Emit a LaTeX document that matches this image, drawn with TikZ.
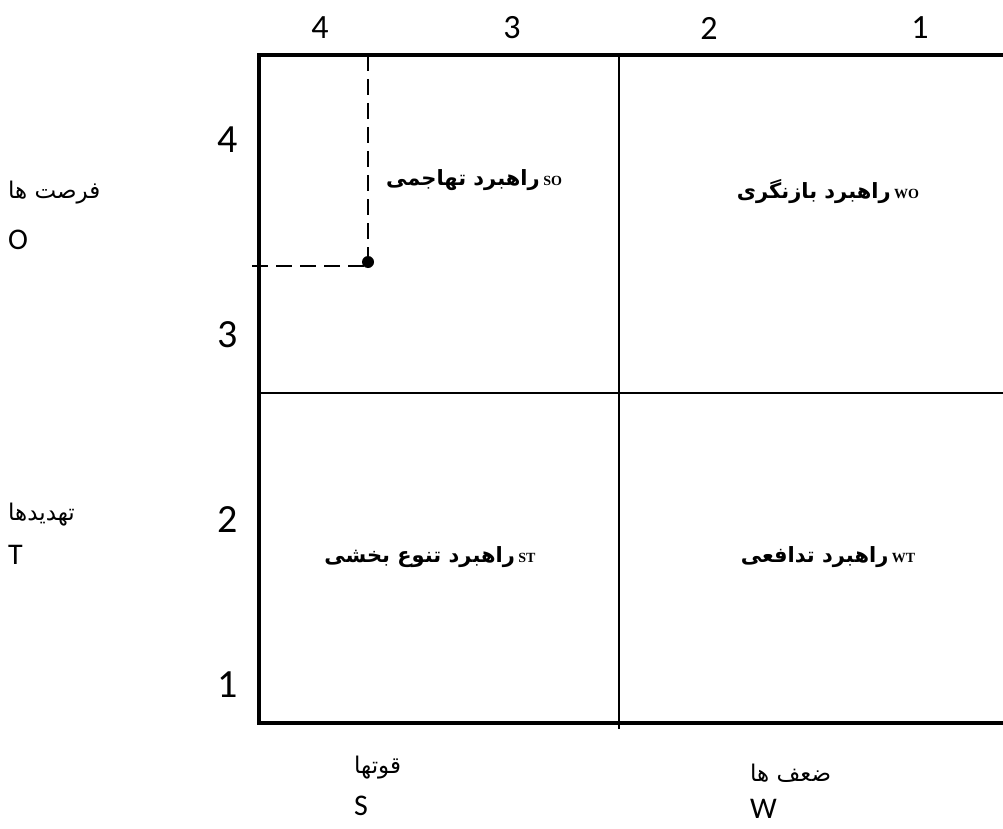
\documentclass[tikz,border=0pt]{standalone}
\usepackage{fontspec}
\setmainfont{Carlito}
\newfontfamily\arabicfont[Script=Arabic]{DejaVu Sans}
\newfontfamily\serifl{Liberation Serif}
\newcommand\tagtxt[1]{{\serifl\fontsize{14}{16}\selectfont #1}}
\TeXXeTstate=1
\begin{document}
\begin{tikzpicture}[x=1pt,y=-1pt,
  frame/.style={line width=3.5pt},
  divider/.style={line width=1.2pt},
  guide/.style={line width=1.2pt,dash pattern=on 16pt off 8pt},
  num/.style={font=\fontsize{34}{38}\selectfont,inner sep=0pt},
  lnum/.style={font=\fontsize{40}{44}\selectfont,inner sep=0pt},
  axar/.style={font=\arabicfont\fontsize{23}{26}\selectfont,inner sep=0pt,anchor=west},
  axlat/.style={font=\fontsize{30}{34}\selectfont,inner sep=0pt,anchor=west},
  cell/.style={inner sep=0pt,font=\fontsize{21}{24}\selectfont\bfseries}]
\useasboundingbox (0,0) rectangle (1003,829);
% frame
\coordinate (tl) at (259,55);
\coordinate (tr) at (1010,55);
\coordinate (bl) at (259,723);
\coordinate (br) at (1010,723);
\draw[frame] (tr) -- (tl) -- (bl) -- (br);
% dividers
\coordinate (vt) at (619,55);
\coordinate (vb) at (619,729);
\coordinate (hl) at (259,393);
\coordinate (hr) at (1010,393);
\draw[divider] (vt) -- (vb);
\draw[divider] (hl) -- (hr);
% dashed guides and point
\coordinate (gt) at (368,55);
\coordinate (p) at (368,262);
\coordinate (gl) at (252,266);
\draw[guide] (gt) -- (p);
\draw[guide] (gl) -- (p |- gl);
\fill (p) circle (6pt);
% top numbers
\node[num] (t4) at (320,28) {4};
\node[num] (t3) at (512,28) {3};
\node[num] (t2) at (709,28) {2};
\node[num] (t1) at (920,28) {1};
% left numbers
\node[lnum] (l4) at (228,140) {4};
\node[lnum] (l3) at (228,335) {3};
\node[lnum] (l2) at (228,520) {2};
\node[lnum] (l1) at (228,685) {1};
% cell labels
\node[cell] (so) at (474,180) {{\arabicfont\beginR راهبرد تهاجمی\endR}\,\tagtxt{SO}};
\node[cell] (wo) at (828,192) {{\arabicfont\beginR راهبرد بازنگری\endR}\,\tagtxt{WO}};
\node[cell] (st) at (430,557) {{\arabicfont\beginR راهبرد تنوع بخشی\endR}\,\tagtxt{ST}};
\node[cell] (wt) at (828,557) {{\arabicfont\beginR راهبرد تدافعی\endR}\,\tagtxt{WT}};
% axis labels
\node[axar] (o1) at (8,193) {\beginR فرصت ها\endR};
\node[axlat] (o2) at (8,240) {O};
\node[axar] (t1a) at (8,515) {\beginR تهدیدها\endR};
\node[axlat] (t2a) at (8,555) {T};
\node[axar] (s1) at (354,768) {\beginR قوتها\endR};
\node[axlat] (s2) at (354,806) {S};
\node[axar] (w1) at (750,773) {\beginR ضعف ها\endR};
\node[axlat] (w2) at (750,809) {W};
\end{tikzpicture}
\end{document}
